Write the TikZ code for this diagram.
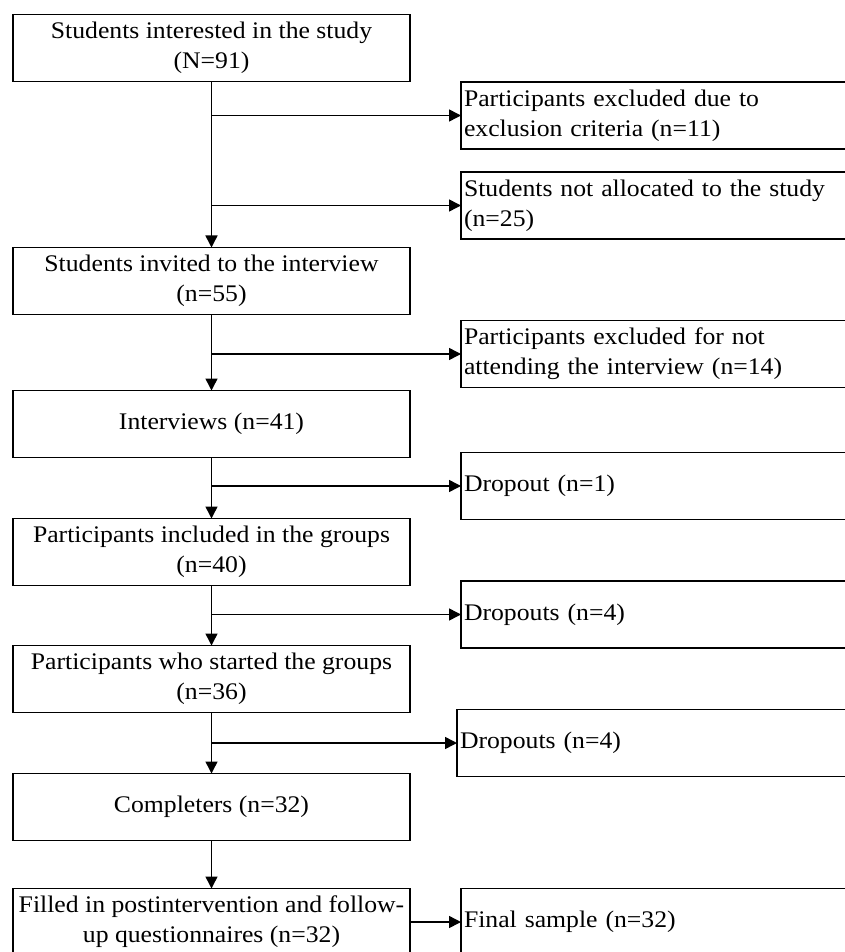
\documentclass[tikz,border=0pt]{standalone}
\usepackage{fontspec}
\setmainfont{Liberation Serif}[FakeStretch=1.08]
\usetikzlibrary{%
	arrows.meta,%
	positioning,%
}
\tikzset{
	>={Triangle[length=6pt,width=6pt]},
	nodes={align=center},
}

\begin{document}
\begin{tikzpicture}[node distance=30pt,%
		stage/.style={draw, rectangle, line width=0.8pt, outer sep=0pt, minimum width=198.5pt, minimum height=33.5pt, inner xsep=1pt, font=\fontsize{11.9}{15}\selectfont},%
		drop/.style={draw, rectangle, line width=0.8pt, outer sep=0pt, minimum width=200pt, minimum height=33.5pt, text width=197pt, align=left, inner xsep=1.5pt, anchor=west, font=\fontsize{11.9}{15}\selectfont},%
		flow/.style={->, line width=0.75pt}]
	\useasboundingbox (0,0) rectangle (422.5pt,-476pt);

	\node[stage] (interested) at (105.75pt,-24pt) {Students interested in the study\\(N=91)};
	\node[stage] (invited) [below=83pt of interested] {Students invited to the interview\\(n=55)};
	\node[stage] (interviews) [below=38pt of invited] {Interviews (n=41)};
	\node[stage] (included) [below=30.5pt of interviews] {Participants included in the groups\\(n=40)};
	\node[stage] (started) [below=of included] {Participants who started the groups\\(n=36)};
	\node[stage] (completers) [below=30.5pt of started] {Completers (n=32)};
	\node[stage] (filled) [below=24pt of completers] {Filled in postintervention and follow-\\up questionnaires (n=32)};

	\node[drop] (criteria) at (230.5pt,-57.75pt) {Participants excluded due to\\exclusion criteria (n=11)};
	\node[drop] (notalloc) at (230.5pt,-102.75pt) {Students not allocated to the study\\(n=25)};
	\node[drop] (absent) at (230.5pt,-177pt) {Participants excluded for not\\attending the interview (n=14)};
	\node[drop] (dropout) at (230.5pt,-243pt) {Dropout (n=1)};
	\node[drop] (dropgroups) at (230.5pt,-307.25pt) {Dropouts (n=4)};
	\node[drop] (dropstart) at (228.5pt,-371.5pt) {Dropouts (n=4)};
	\node[drop] (final) [right=25.5pt of filled] {Final sample (n=32)};

	\draw[flow] (interested) -- (invited);
	\draw[flow] (invited) -- (interviews);
	\draw[flow] (interviews) -- (included);
	\draw[flow] (included) -- (started);
	\draw[flow] (started) -- (completers);
	\draw[flow] (completers) -- (filled);

	\draw[flow] (interested.south |- criteria.west) -- (criteria.west);
	\draw[flow] (interested.south |- notalloc.west) -- (notalloc.west);
	\draw[flow] (invited.south |- absent.west) -- (absent.west);
	\draw[flow] (interviews.south |- dropout.west) -- (dropout.west);
	\draw[flow] (included.south |- dropgroups.west) -- (dropgroups.west);
	\draw[flow] (started.south |- dropstart.west) -- (dropstart.west);
	\draw[flow] (filled) -- (final);
\end{tikzpicture}
\end{document}
